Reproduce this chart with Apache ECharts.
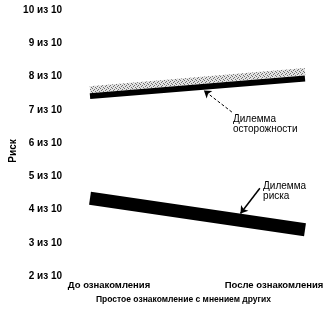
<!DOCTYPE html>
<html>
<head>
<meta charset="utf-8">
<script src="https://cdn.jsdelivr.net/npm/echarts@6/dist/echarts.min.js"></script>
<style>
html, body { margin: 0; background: #fff; }
#chart { width: 331px; height: 315px; }
</style>
</head>
<body>
<div id="chart"></div>
<script>
// данные
var categories = ['До ознакомления', 'После ознакомления'];
var cautionShade = [7.6, 8.15];   // светлая полоса над линией осторожности
var cautionLine = [7.41, 7.94];   // дилемма осторожности
var riskLine = [4.34, 3.39];      // дилемма риска
// подписи и стрелки: [хвост, острие], доля ширины по x
var cautionArrow = [[0.66, 6.93], [0.53, 7.58]];
var riskArrow = [[0.79, 4.64], [0.70, 3.88]];
var cautionText = [0.665, 6.86];
var riskText = [0.805, 4.84];

var font = "'Liberation Sans', Arial, sans-serif";
var txt = { color: '#000', fontFamily: font, fontSize: 10, fontWeight: 'bold' };

// точечная заливка для светлой полосы
var dots = document.createElement('canvas');
dots.width = 4; dots.height = 4;
var g = dots.getContext('2d');
g.fillStyle = '#e2e2e2'; g.fillRect(0, 0, 4, 4);
g.fillStyle = '#707070';
g.fillRect(0, 0, 1, 1); g.fillRect(2, 1, 1, 1); g.fillRect(1, 2, 1, 1); g.fillRect(3, 3, 1, 1);

var chart = echarts.init(document.getElementById('chart'));

function note(pos, text) {
    return {
        coord: pos,
        symbol: 'circle',
        symbolSize: 0,
        label: {
            show: true,
            position: [0, 0],
            align: 'left',
            verticalAlign: 'top',
            formatter: text,
            color: '#000',
            fontFamily: font,
            fontSize: 10,
            lineHeight: 10
        }
    };
}

chart.setOption({
    backgroundColor: '#fff',
    animation: false,
    grid: { left: 90, right: 26, top: 10, bottom: 39, outerBoundsMode: 'none', containLabel: false },
    xAxis: [{
        type: 'category',
        data: categories,
        boundaryGap: false,
        axisLine: { show: false },
        axisTick: { show: false },
        splitLine: { show: false },
        axisLabel: Object.assign({
            margin: 4,
            formatter: function (v, i) {
                return i === 0 ? '{a|' + v + '}' : '{b|' + v + '}';
            },
            rich: {
                a: Object.assign({ padding: [0, 0, 0, 38] }, txt, { fontSize: 9.5 }),
                b: Object.assign({ padding: [0, 62, 0, 0] }, txt, { fontSize: 9.5 })
            }
        }, txt),
        name: 'Простое ознакомление с мнением других',
        nameLocation: 'middle',
        nameGap: 17,
        nameTextStyle: Object.assign({ padding: [0, 28, 0, 0] }, txt, { fontSize: 8.5 })
    }, {
        type: 'value',
        min: 0,
        max: 1,
        show: false
    }],
    yAxis: {
        type: 'value',
        min: 2,
        max: 10,
        interval: 1,
        axisLine: { show: false },
        axisTick: { show: false },
        splitLine: { show: false },
        axisLabel: Object.assign({
            margin: 28,
            formatter: function (v) { return v + ' из 10'; }
        }, txt),
        name: 'Риск',
        nameLocation: 'middle',
        nameGap: 72,
        nameMoveOverlap: false,
        nameRotate: 90,
        nameTextStyle: Object.assign({ padding: [0, 16, 0, 0] }, txt)
    },
    series: [
        {
            type: 'line',
            data: cautionShade,
            symbol: 'none',
            lineStyle: { color: { image: dots, repeat: 'repeat' }, width: 7 }
        },
        {
            type: 'line',
            data: cautionLine,
            symbol: 'none',
            lineStyle: { color: '#000', width: 6 }
        },
        {
            type: 'line',
            data: riskLine,
            symbol: 'none',
            lineStyle: { color: '#000', width: 13 }
        },
        {
            // подписи со стрелками
            type: 'line',
            xAxisIndex: 1,
            data: [],
            markLine: {
                silent: true,
                symbol: ['none', 'arrow'],
                symbolSize: 7,
                label: { show: false },
                data: [
                    [{ coord: cautionArrow[0], lineStyle: { color: '#000', width: 1, type: [3, 2] } },
                     { coord: cautionArrow[1] }],
                    [{ coord: riskArrow[0], lineStyle: { color: '#000', width: 1.5, type: 'solid' } },
                     { coord: riskArrow[1] }]
                ]
            },
            markPoint: {
                silent: true,
                data: [
                    note(cautionText, 'Дилемма\nосторожности'),
                    note(riskText, 'Дилемма\nриска')
                ]
            }
        }
    ]
});
</script>
</body>
</html>
